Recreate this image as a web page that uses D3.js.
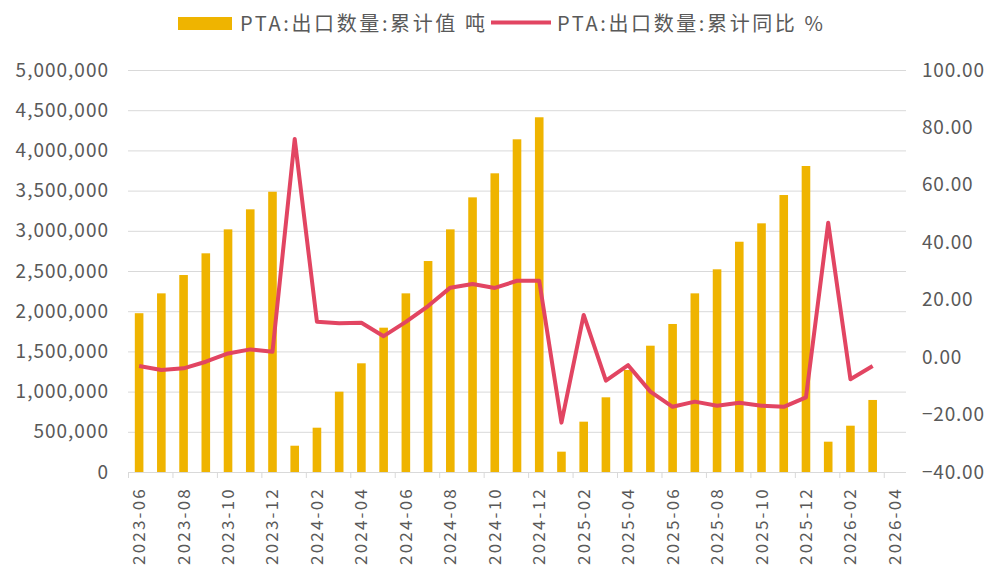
<!DOCTYPE html>
<html>
<head>
<meta charset="utf-8">
<script src="https://cdn.jsdelivr.net/npm/d3@7"></script>
<style>
  body { margin: 0; background: #fff; }
  svg text { font-family: "Noto Sans CJK SC", "Noto Sans", sans-serif; fill: #595959; }
</style>
</head>
<body>
<script>
// months 2023-06 .. 2026-04 (last slot empty)
const months = [
  "2023-06","2023-07","2023-08","2023-09","2023-10","2023-11","2023-12",
  "2024-01","2024-02","2024-03","2024-04","2024-05","2024-06","2024-07","2024-08","2024-09","2024-10","2024-11","2024-12",
  "2025-01","2025-02","2025-03","2025-04","2025-05","2025-06","2025-07","2025-08","2025-09","2025-10","2025-11","2025-12",
  "2026-01","2026-02","2026-03","2026-04"
];
const exportCum = [
  1975000, 2222000, 2450000, 2720000, 3018000, 3267000, 3486000,
  327000, 551000, 999000, 1352000, 1795000, 2222000, 2624000, 3018000, 3416000, 3715000, 4138000, 4412000,
  253000, 626000, 929000, 1269000, 1571000, 1841000, 2222000, 2521000, 2864000, 3093000, 3445000, 3806000,
  377000, 576000, 896000
];
const exportYoY = [
  -3.1, -4.5, -3.9, -1.6, 1.3, 2.7, 1.9,
  76.0, 12.3, 11.8, 12.0, 7.3, 12.3, 17.8, 24.2, 25.5, 24.1, 26.6, 26.6,
  -22.8, 14.7, -8.2, -2.8, -12.0, -17.3, -15.5, -16.9, -15.9, -16.9, -17.3, -14.0,
  46.8, -7.7, -3.1
];
const leftTicks = d3.range(0, 5000001, 500000);
const rightTicks = [-40, -20, 0, 20, 40, 60, 80, 100];
const seriesNames = ["PTA:出口数量:累计值 吨", "PTA:出口数量:累计同比 %"];

const W = 991, H = 568;
const plotL = 128, plotR = 906, plotT = 70, plotB = 472;
const barColor = "#EFB400", lineColor = "#E24562";

const svg = d3.select("body").append("svg").attr("width", W).attr("height", H);

const x = d3.scaleBand().domain(months).range([plotL, plotR]).paddingInner(0).paddingOuter(0);
const yL = d3.scaleLinear().domain([0, 5000000]).range([plotB, plotT]);
const yR = d3.scaleLinear().domain([-40, 100]).range([plotB, plotT]);

// gridlines
svg.append("g").selectAll("line").data(leftTicks.slice(1)).join("line")
  .attr("x1", plotL).attr("x2", plotR)
  .attr("y1", d => yL(d) + 0.5).attr("y2", d => yL(d) + 0.5)
  .attr("stroke", "#d9d9d9").attr("stroke-width", 1);

// left axis
const axL = svg.append("g").attr("transform", `translate(${plotL - 19},0)`)
  .call(d3.axisLeft(yL).tickValues(leftTicks).tickSize(0).tickPadding(0).tickFormat(d3.format(",")));
axL.select(".domain").remove();
axL.selectAll("text").style("font-size", "19px").style("letter-spacing", "1px").style("fill", "#595959");

// right axis
const axR = svg.append("g").attr("transform", `translate(${plotR + 16},0)`)
  .call(d3.axisRight(yR).tickValues(rightTicks).tickSize(0).tickPadding(0).tickFormat(d3.format(".2f")));
axR.select(".domain").remove();
axR.selectAll("text").style("font-size", "19px").style("letter-spacing", "0.8px").style("fill", "#595959");

// bars
const bw = 8.6;
svg.append("g").selectAll("rect").data(exportCum).join("rect")
  .attr("x", (d, i) => x(months[i]) + x.bandwidth() / 2 - bw / 2)
  .attr("width", bw)
  .attr("y", d => yL(d))
  .attr("height", d => plotB - yL(d))
  .attr("fill", barColor);

// x axis line & ticks
svg.append("line").attr("x1", plotL).attr("x2", plotR).attr("y1", plotB + 0.5).attr("y2", plotB + 0.5)
  .attr("stroke", "#d9d9d9");
const tickMonths = months.filter((m, i) => i % 2 === 0);
svg.append("g").selectAll("line").data(tickMonths).join("line")
  .attr("x1", d => x(d) + 0.5).attr("x2", d => x(d) + 0.5)
  .attr("y1", plotB).attr("y2", plotB + 6)
  .attr("stroke", "#d9d9d9");
svg.append("g").selectAll("text").data(tickMonths).join("text")
  .attr("transform", d => `translate(${x(d) + x.bandwidth() / 2 + 6},${plotB + 15}) rotate(-90)`)
  .attr("text-anchor", "end")
  .style("font-size", "17px")
  .style("letter-spacing", "2.2px")
  .text(d => d);

// line
const line = d3.line()
  .x((d, i) => x(months[i]) + x.bandwidth() / 2)
  .y(d => yR(d));
svg.append("path").datum(exportYoY)
  .attr("d", line)
  .attr("fill", "none")
  .attr("stroke", lineColor)
  .attr("stroke-width", 4)
  .attr("stroke-linejoin", "round");

// legend
const lg = svg.append("g");
lg.append("rect").attr("x", 178).attr("y", 17).attr("width", 54).attr("height", 13).attr("fill", barColor);
lg.append("text").attr("x", 240).attr("y", 31).style("font-size", "20px")
  .attr("textLength", 245).attr("lengthAdjust", "spacing").text(seriesNames[0]);
lg.append("line").attr("x1", 491).attr("x2", 551).attr("y1", 22.5).attr("y2", 22.5)
  .attr("stroke", lineColor).attr("stroke-width", 4);
lg.append("text").attr("x", 557).attr("y", 31).style("font-size", "20px")
  .attr("textLength", 266).attr("lengthAdjust", "spacing").text(seriesNames[1]);
</script>
</body>
</html>
